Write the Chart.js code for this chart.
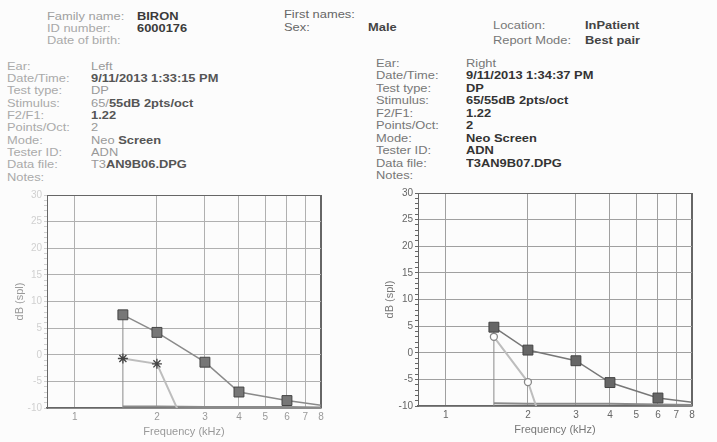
<!DOCTYPE html>
<html lang="en">
<head>
<meta charset="UTF-8">
<title>DPOAE Report</title>
<script src="https://cdn.jsdelivr.net/npm/chart.js"></script>
<style>
    body {
        margin: 0;
        width: 717px;
        height: 442px;
        position: relative;
        overflow: hidden;
        background: #fcfcfc;
        font-family: 'Liberation Sans', Arial, sans-serif;
    }
    .t {
        position: absolute;
        font-size: 11px;
        line-height: 11px;
        white-space: nowrap;
        transform: scaleX(1.17);
        transform-origin: 0 0;
    }
    .chart {
        position: absolute;
        top: 185px;
    }
</style>
</head>
<body>
<div id="texts"></div>
<canvas id="leftChart" class="chart" width="358" height="257" style="left:0px"></canvas>
<canvas id="rightChart" class="chart" width="359" height="257" style="left:358px"></canvas>

<script>
    // --- chart data (kHz / dB SPL) ---
    const freqTicks = [1, 2, 3, 4, 5, 6, 7, 8];
    const dbLabels = [-10, -5, 0, 5, 10, 15, 20, 25, 30];

    const dpFreqs = [1.5, 2, 3, 4, 6, 8];
    const leftDp = [7.5, 4.2, -1.4, -7.0, -8.6, -9.5];
    const rightDp = [4.8, 0.5, -1.5, -5.6, -8.5, -9.3];

    const noiseFreqs = [1.5, 2, 3];
    const leftNoise = [-0.7, -1.7, -21.6];
    const rightNoise = [3.0, -5.5, -32];

    const leftFloor = [-9.7, -9.7, -9.8, -9.8, -9.8, -9.9];
    const rightFloor = [-9.5, -9.6, -9.6, -9.6, -9.7, -9.8];

    // --- header text ---
    const texts = document.getElementById('texts');
    function put(html, x, base, color, bold) {
        const s = document.createElement('span');
        s.className = 't';
        s.innerHTML = html;
        s.style.left = x + 'px';
        s.style.top = (base - 9.3) + 'px';
        s.style.color = color;
        if (bold) s.style.fontWeight = 'bold';
        texts.appendChild(s);
    }

    put('Family name:', 47, 20, '#a0a0a0');
    put('ID number:', 47, 32, '#a8a8a8');
    put('Date of birth:', 47, 44, '#aaa');
    put('BIRON', 137, 20, '#3a3a3a', true);
    put('6000176', 137, 32, '#3a3a3a', true);
    put('First names:', 284, 18, '#666');
    put('Sex:', 284, 31, '#666');
    put('Male', 368, 31, '#444', true);
    put('Location:', 493, 29, '#777');
    put('Report Mode:', 493, 44, '#777');
    put('InPatient', 585, 29, '#444', true);
    put('Best pair', 585, 44, '#444', true);

    const infoLabels = ['Ear:', 'Date/Time:', 'Test type:', 'Stimulus:', 'F2/F1:', 'Points/Oct:', 'Mode:', 'Tester ID:', 'Data file:', 'Notes:'];
    const leftValues = [
        'Left',
        '<b style="color:#555">9/11/2013 1:33:15 PM</b>',
        'DP',
        '65/<b style="color:#555">55dB 2pts/oct</b>',
        '<b style="color:#555">1.22</b>',
        '2',
        'Neo <b style="color:#555">Screen</b>',
        'ADN',
        'T3<b style="color:#555">AN9B06.DPG</b>',
        ''
    ];
    const rightValues = [
        '<span style="font-weight:normal;color:#777">Right</span>',
        '9/11/2013 1:34:37 PM',
        'DP',
        '65/55dB 2pts/oct',
        '1.22',
        '2',
        'Neo Screen',
        'ADN',
        'T3AN9B07.DPG',
        ''
    ];
    infoLabels.forEach((lab, i) => {
        put(lab, 7, 70 + i * 12.33, '#aaa');
        put(leftValues[i], 91, 70 + i * 12.33, '#999');
        put(lab, 376, 67 + i * 12.5, '#777');
        put(rightValues[i], 466, 67 + i * 12.5, '#333', true);
    });

    // --- charts ---
    function makeChart(id, cfg) {
        const pts = (xs, ys) => xs.map((x, i) => ({ x: x, y: ys[i] }));
        return new Chart(document.getElementById(id), {
            type: 'line',
            data: {
                datasets: [
                    {
                        label: 'DP',
                        data: pts(dpFreqs, cfg.dp),
                        borderColor: cfg.dpLine,
                        borderWidth: 1.5,
                        pointStyle: 'rect',
                        pointRadius: dpFreqs.map(f => f === 8 ? 0 : 7),
                        pointBackgroundColor: cfg.dpFill,
                        pointBorderColor: '#444',
                        pointBorderWidth: 1,
                        order: 0
                    },
                    {
                        label: 'Noise',
                        data: pts(noiseFreqs, cfg.noise),
                        borderColor: '#bdbdbd',
                        borderWidth: 2,
                        pointStyle: cfg.noiseStyle,
                        pointRadius: cfg.noiseRadius,
                        pointBackgroundColor: '#fff',
                        pointBorderColor: cfg.noiseMark,
                        pointBorderWidth: 1.3,
                        order: 1
                    },
                    {
                        label: 'Floor',
                        data: pts(dpFreqs, cfg.floor),
                        borderColor: '#8a8a8a',
                        borderWidth: 2,
                        pointRadius: 0,
                        order: 2
                    },
                    {
                        label: 'Edge',
                        data: [{ x: dpFreqs[0], y: dbLabels[0] }, { x: dpFreqs[0], y: cfg.dp[0] }],
                        borderColor: '#8a8a8a',
                        borderWidth: 1,
                        pointRadius: 0,
                        order: 3
                    }
                ]
            },
            options: {
                responsive: false,
                animation: false,
                layout: { padding: cfg.padding },
                plugins: { legend: { display: false }, tooltip: { enabled: false } },
                scales: {
                    x: {
                        type: 'logarithmic',
                        min: 0.79,
                        max: 8,
                        afterBuildTicks: s => { s.ticks = freqTicks.map(v => ({ value: v })); },
                        afterFit: s => { s.height = cfg.xHeight; },
                        ticks: {
                            autoSkip: false,
                            maxRotation: 0,
                            padding: 3,
                            color: cfg.xTickColor,
                            font: { size: 10 },
                            callback: v => String(v)
                        },
                        grid: {
                            drawTicks: false,
                            color: ctx => ctx.tick && ctx.tick.value === 8 ? cfg.frame : cfg.grid,
                            lineWidth: ctx => ctx.tick && ctx.tick.value === 8 ? 2 : 1
                        },
                        border: { color: cfg.frame, width: 1.5 },
                        title: {
                            display: true,
                            text: 'Frequency (kHz)',
                            color: cfg.titleColor,
                            font: { size: 11 },
                            padding: { top: 0, bottom: cfg.xTitlePad }
                        }
                    },
                    y: {
                        min: -10,
                        max: 30,
                        afterBuildTicks: s => {
                            const t = [];
                            for (let v = dbLabels[0]; v <= dbLabels[dbLabels.length - 1]; v++) t.push({ value: v });
                            s.ticks = t;
                        },
                        afterFit: s => { s.width = cfg.yWidth; },
                        ticks: {
                            autoSkip: false,
                            padding: 2,
                            color: cfg.yTickColor,
                            font: { size: 10 },
                            callback: v => dbLabels.includes(v) ? String(v) : ''
                        },
                        grid: {
                            drawTicks: true,
                            tickLength: 3,
                            tickColor: cfg.yTickColor,
                            color: ctx => {
                                const v = ctx.tick ? ctx.tick.value : 0;
                                if (v === 30) return cfg.frame;
                                return dbLabels.includes(v) ? cfg.grid : 'transparent';
                            }
                        },
                        border: { color: cfg.frame },
                        title: {
                            display: true,
                            text: 'dB (spl)',
                            color: cfg.titleColor,
                            font: { size: 11 },
                            padding: { top: cfg.yTitlePad, bottom: 0 }
                        }
                    }
                }
            }
        });
    }

    makeChart('leftChart', {
        dp: leftDp, noise: leftNoise, floor: leftFloor,
        noiseStyle: 'star', noiseRadius: 5, noiseMark: '#444',
        dpLine: '#8a8a8a', dpFill: '#777',
        padding: { top: 10, right: 37, bottom: 0, left: 0 },
        yWidth: 47, xHeight: 34, xTitlePad: 3, yTitlePad: 13,
        grid: '#b0b0b0', frame: '#666',
        xTickColor: '#999', yTickColor: '#d0d0d0', titleColor: '#999'
    });

    makeChart('rightChart', {
        dp: rightDp, noise: rightNoise, floor: rightFloor,
        noiseStyle: 'circle', noiseRadius: 3.5, noiseMark: '#888',
        dpLine: '#777', dpFill: '#666',
        padding: { top: 8, right: 25, bottom: 0, left: 0 },
        yWidth: 60, xHeight: 36, xTitlePad: 5, yTitlePad: 25,
        grid: '#a0a0a0', frame: '#666',
        xTickColor: '#666', yTickColor: '#666', titleColor: '#777'
    });
</script>
</body>
</html>
